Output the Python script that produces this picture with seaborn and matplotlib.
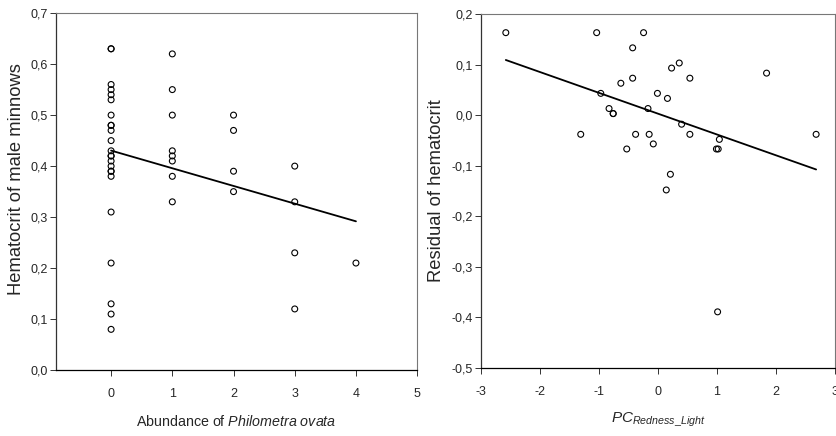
import numpy as np
import pandas as pd
import seaborn as sns
import matplotlib.pyplot as plt
from matplotlib.ticker import FuncFormatter

plt.switch_backend('Agg')

# left panel: parasite abundance vs hematocrit
abundance = [0] * 24 + [1] * 8 + [2] * 4 + [3] * 4 + [4]
hematocrit = [0.63, 0.63, 0.56, 0.55, 0.54, 0.53, 0.50, 0.48, 0.48, 0.47,
              0.45, 0.43, 0.42, 0.42, 0.41, 0.40, 0.39, 0.39, 0.38, 0.31,
              0.21, 0.13, 0.11, 0.08,
              0.62, 0.55, 0.50, 0.43, 0.42, 0.41, 0.38, 0.33,
              0.50, 0.47, 0.39, 0.35,
              0.40, 0.33, 0.23, 0.12,
              0.21]

# right panel: redness PC vs residual hematocrit
pc_redness = [-2.58, -1.04, -0.97, -1.31, -0.83, -0.76, -0.76, -0.63, -0.53,
              -0.43, -0.43, -0.38, -0.245, -0.17, -0.15, -0.08, -0.01,
              0.16, 0.21, 0.14, 0.23, 0.36, 0.40, 0.54, 0.54,
              0.99, 1.02, 1.04, 1.01, 1.84, 2.68]
residual = [0.163, 0.163, 0.043, -0.038, 0.013, 0.003, 0.003, 0.063, -0.067,
            0.133, 0.073, -0.038, 0.163, 0.013, -0.038, -0.057, 0.043,
            0.033, -0.117, -0.148, 0.093, 0.103, -0.018, 0.073, -0.038,
            -0.067, -0.067, -0.048, -0.389, 0.083, -0.038]

left_df = pd.DataFrame({"abundance": abundance, "hematocrit": hematocrit})
right_df = pd.DataFrame({"pc": pc_redness, "residual": residual})

sns.set_style("white")
plt.rcParams['font.family'] = ['Liberation Sans', 'DejaVu Sans']
plt.rcParams['mathtext.fontset'] = 'custom'
plt.rcParams['mathtext.rm'] = 'Liberation Sans'
plt.rcParams['mathtext.it'] = 'Liberation Sans:italic'

TICK_FONT = ['Liberation Sans Narrow', 'Liberation Sans']

fig = plt.figure(figsize=(8.36, 4.36), dpi=100)
ax1 = fig.add_axes([0.067, 0.151, 0.432, 0.819])
ax2 = fig.add_axes([0.5754, 0.156, 0.4234, 0.812])

comma = FuncFormatter(lambda v, p: f"{round(v, 2) + 0.0:.1f}".replace(".", ","))
intfmt = FuncFormatter(lambda v, p: f"{v:.0f}")

def style(ax):
    for s in ["top", "right"]:
        ax.spines[s].set_color("#777777")
        ax.spines[s].set_linewidth(0.8)
    ax.spines["left"].set_color("#333333")
    ax.spines["bottom"].set_color("black")
    for s in ["left", "bottom"]:
        ax.spines[s].set_linewidth(0.9)
    ax.tick_params(axis="both", direction="out", length=4, width=0.7,
                   color="#333333", left=True, bottom=True)
    ax.tick_params(axis="x", pad=9)
    ax.tick_params(axis="y", pad=2)
    for lab in ax.get_xticklabels() + ax.get_yticklabels():
        lab.set_family(TICK_FONT)
        lab.set_fontsize(9)

scat = dict(marker="o", s=18, facecolors="none", edgecolor="black",
            linewidth=0.8, legend=False)

sns.scatterplot(data=left_df, x="abundance", y="hematocrit", ax=ax1, **scat)
sns.regplot(data=left_df, x="abundance", y="hematocrit", ax=ax1, scatter=False,
            ci=None, truncate=True, line_kws=dict(color="black", lw=1.3))
ax1.set_xlim(-0.9, 5)
ax1.set_ylim(0, 0.7)
ax1.set_xticks(range(0, 6))
ax1.set_yticks(np.arange(0, 0.71, 0.1))
ax1.xaxis.set_major_formatter(intfmt)
ax1.yaxis.set_major_formatter(comma)
ax1.set_xlabel(r"Abundance of $\mathit{Philometra\ ovata}$", fontsize=10.3, labelpad=10)
ax1.set_ylabel("Hematocrit of male minnows", fontsize=13.2)
ax1.yaxis.set_label_coords(-0.086, 0.535)
style(ax1)

sns.scatterplot(data=right_df, x="pc", y="residual", ax=ax2, **scat)
sns.regplot(data=right_df, x="pc", y="residual", ax=ax2, scatter=False,
            ci=None, truncate=True, line_kws=dict(color="black", lw=1.3))
ax2.set_xlim(-3, 3)
ax2.set_ylim(-0.5, 0.2)
ax2.set_xticks(range(-3, 4))
ax2.set_yticks(np.arange(-0.5, 0.21, 0.1))
ax2.xaxis.set_major_formatter(intfmt)
ax2.yaxis.set_major_formatter(comma)
ax2.set_xlabel(r"$\mathit{PC}_{\mathit{Redness\_Light}}$", fontsize=11, labelpad=9)
ax2.set_ylabel("Residual of hematocrit", fontsize=13.2)
ax2.yaxis.set_label_coords(-0.102, 0.5)
style(ax2)

fig.savefig("out.png", dpi=100)
